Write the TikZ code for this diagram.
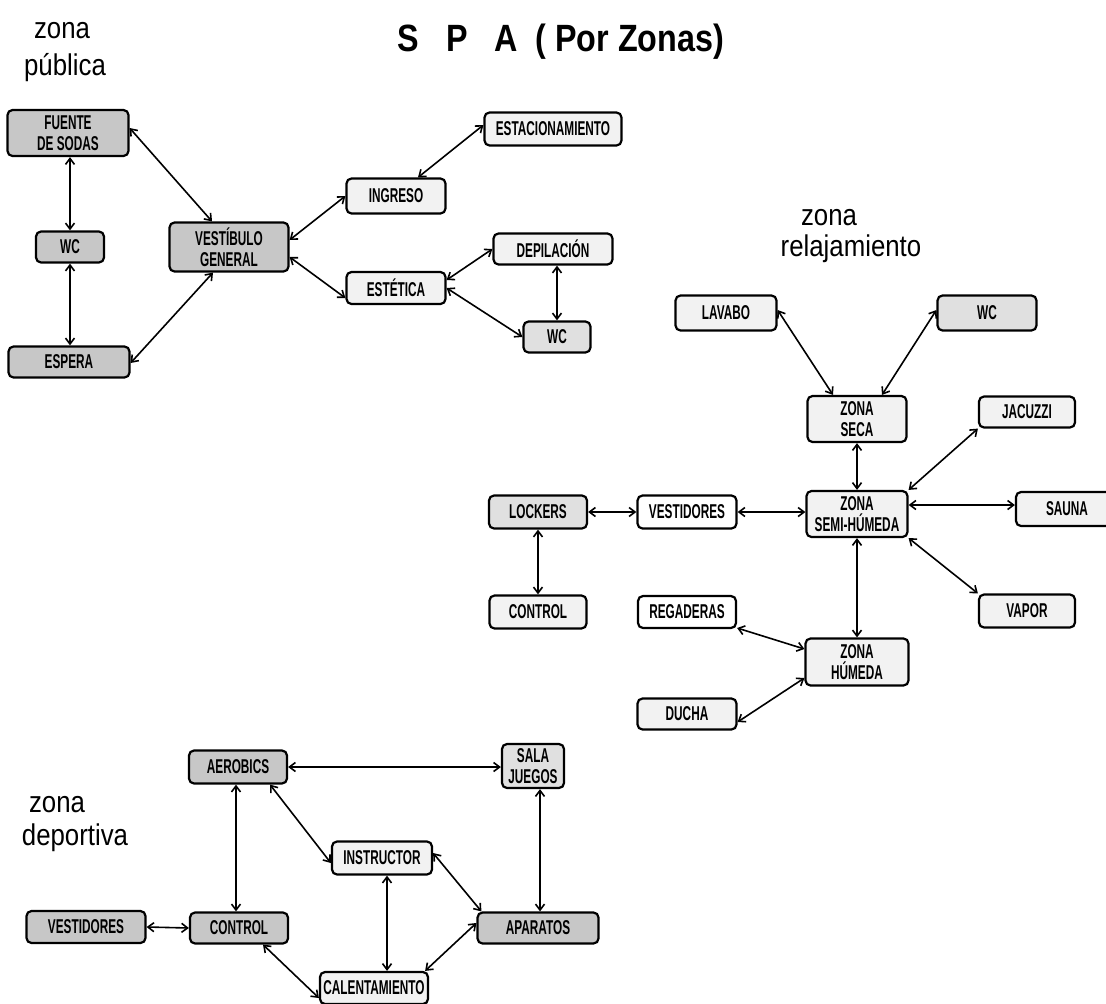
\documentclass[tikz,border=0pt]{standalone}
\usepackage{fontspec}
\setmainfont{Liberation Sans}
\newfontfamily\boxfont[FakeStretch=0.59]{Liberation Sans}
\newfontfamily\labfont[FakeStretch=0.86]{Liberation Sans}
\newfontfamily\titfont[FakeStretch=0.85]{Liberation Sans}
\usetikzlibrary{arrows.meta}
\begin{document}
\begin{tikzpicture}[x=1pt,y=-1pt,
  box/.style={draw=black,line width=2.2pt,rounded corners=5pt,inner sep=0pt,align=center,
    font=\boxfont\bfseries\fontsize{20}{21}\selectfont},
  heavy/.style={box,fill=black!22},
  medium/.style={box,fill=black!12},
  light/.style={box,fill=black!5},
  plain/.style={box,fill=white},
  lnk/.style={line width=1.6pt,{Straight Barb[length=6pt,width=9pt]}-{Straight Barb[length=6pt,width=9pt]}},
  zlabel/.style={font=\labfont\fontsize{30}{36}\selectfont,anchor=base,inner sep=0pt}]
\useasboundingbox (0,0) rectangle (1106,1004);
% titles
\node[zlabel] (zp1) at (62,38) {zona};
\node[zlabel] (zp2) at (65,75) {pública};
\node[font=\titfont\bfseries\fontsize{38}{40}\selectfont,anchor=base west,inner sep=0pt] (title) at (397,51) {S\hspace{28pt}P\hspace{26pt}A\hspace{18pt}( Por Zonas)};
\node[zlabel] (zr1) at (829,225) {zona};
\node[zlabel] (zr2) at (851,256) {relajamiento};
\node[zlabel] (zd1) at (57,812) {zona};
\node[zlabel] (zd2) at (75,845) {deportiva};
% public zone
\node[heavy,minimum width=121pt,minimum height=46pt] (fuente) at (68,133) {FUENTE\\DE SODAS};
\node[heavy,minimum width=68pt,minimum height=31pt] (wcA) at (70,247) {WC};
\node[heavy,minimum width=121pt,minimum height=31pt] (espera) at (69,362) {ESPERA};
\node[heavy,minimum width=119pt,minimum height=49pt] (vest) at (229,247) {VESTÍBULO\\GENERAL};
\node[light,minimum width=99pt,minimum height=35pt] (ingreso) at (396,196) {INGRESO};
\node[light,minimum width=137pt,minimum height=33pt] (estac) at (553,129) {ESTACIONAMIENTO};
\node[light,minimum width=99pt,minimum height=32pt] (estetica) at (396,288) {ESTÉTICA};
\node[light,minimum width=119pt,minimum height=31pt] (depil) at (553,249) {DEPILACIÓN};
\node[medium,minimum width=67pt,minimum height=31pt] (wcB) at (557,337) {WC};
% relax zone
\node[light,minimum width=101pt,minimum height=35pt] (lavabo) at (726,313) {LAVABO};
\node[medium,minimum width=99pt,minimum height=35pt] (wcC) at (987,313) {WC};
\node[light,minimum width=99pt,minimum height=46pt] (seca) at (857,419) {ZONA\\SECA};
\node[light,minimum width=96pt,minimum height=31pt] (jacuzzi) at (1027,412) {JACUZZI};
\node[light,minimum width=101pt,minimum height=46pt] (semi) at (857,514) {ZONA\\SEMI-HÚMEDA};
\node[light,minimum width=102pt,minimum height=34pt] (sauna) at (1067,509) {SAUNA};
\node[medium,minimum width=98pt,minimum height=33pt] (lockers) at (538,512) {LOCKERS};
\node[plain,minimum width=99pt,minimum height=33pt] (vestidores) at (687,512) {VESTIDORES};
\node[light,minimum width=97pt,minimum height=33pt] (control) at (538,612) {CONTROL};
\node[plain,minimum width=98pt,minimum height=32pt] (regaderas) at (687,612) {REGADERAS};
\node[light,minimum width=103pt,minimum height=47pt] (humeda) at (857,662) {ZONA\\HÚMEDA};
\node[light,minimum width=99pt,minimum height=31pt] (ducha) at (687,714) {DUCHA};
\node[light,minimum width=96pt,minimum height=33pt] (vapor) at (1027,611) {VAPOR};
% sport zone
\node[heavy,minimum width=98pt,minimum height=33pt] (aerobics) at (238,767) {AEROBICS};
\node[medium,minimum width=62pt,minimum height=44pt] (sala) at (533,766) {SALA\\JUEGOS};
\node[light,minimum width=100pt,minimum height=33pt] (instructor) at (382,858) {INSTRUCTOR};
\node[heavy,minimum width=98pt,minimum height=31pt] (controlB) at (239,928) {CONTROL};
\node[heavy,minimum width=121pt,minimum height=31pt] (aparatos) at (538,928) {APARATOS};
\node[light,minimum width=108pt,minimum height=32pt] (calent) at (374,988) {CALENTAMIENTO};
\node[heavy,minimum width=119pt,minimum height=32pt] (vestB) at (86,927) {VESTIDORES};
% helper coordinate
\coordinate (sx) at ([yshift=9pt]semi.east);
% public links
\draw[lnk] ([yshift=5pt]fuente.east) -- ([xshift=-17pt]vest.north);
\draw[lnk] (wcA.north |- fuente.south) -- (wcA.north);
\draw[lnk] (wcA.south) -- (wcA.south |- espera.north);
\draw[lnk] ([yshift=-1pt]espera.east) -- ([xshift=-16pt]vest.south);
\draw[lnk] ([yshift=7pt]vest.east) -- (ingreso.west);
\draw[lnk] ([yshift=-10pt]vest.east) -- ([yshift=-10pt]estetica.west);
\draw[lnk] ([xshift=22pt]ingreso.north) -- ([yshift=4pt]estac.west);
\draw[lnk] ([yshift=8pt]estetica.east) -- (depil.west);
\draw[lnk] (estetica.east) -- (wcB.west);
\draw[lnk] (wcB.north |- depil.south) -- (wcB.north);
% relax links
\draw[lnk] ([yshift=3pt]lavabo.east) -- ([xshift=-24pt]seca.north);
\draw[lnk] ([yshift=3pt]wcC.west) -- ([xshift=25pt]seca.north);
\draw[lnk] (seca.south) -- (semi.north);
\draw[lnk] (jacuzzi.south west) -- (semi.north east);
\draw[lnk] (sx) -- (sx -| sauna.west);
\draw[lnk] (semi.south east) -- (vapor.north west);
\draw[lnk] (vestidores.east) -- (vestidores.east -| semi.west);
\draw[lnk] (lockers.east) -- (vestidores.west);
\draw[lnk] (lockers.south) -- (control.north);
\draw[lnk] (semi.south) -- (humeda.north);
\draw[lnk] ([yshift=-16pt]regaderas.east) -- ([yshift=13pt]humeda.west);
\draw[lnk] ([yshift=-8pt]ducha.east) -- ([yshift=-16pt]humeda.west);
% sport links
\draw[lnk] (aerobics.east) -- (aerobics.east -| sala.west);
\draw[lnk] ([xshift=-2pt]aerobics.south) -- ([xshift=-2pt]aerobics.south |- controlB.north);
\draw[lnk] ([xshift=32pt]aerobics.south) -- ([yshift=-5pt]instructor.west);
\draw[lnk] ([xshift=7pt]sala.south) -- ([xshift=7pt]sala.south |- aparatos.north);
\draw[lnk] ([yshift=5pt]instructor.east) -- ([xshift=5pt]aparatos.north west);
\draw[lnk] ([xshift=5pt]instructor.south) -- ([xshift=5pt]instructor.south |- calent.north);
\draw[lnk] ([yshift=5pt]aparatos.west) -- ([xshift=-4pt]calent.north east);
\draw[lnk] ([xshift=24pt]controlB.south) -- ([yshift=-10pt]calent.west);
\draw[lnk] (vestB.east) -- (controlB.west);
\end{tikzpicture}
\end{document}
